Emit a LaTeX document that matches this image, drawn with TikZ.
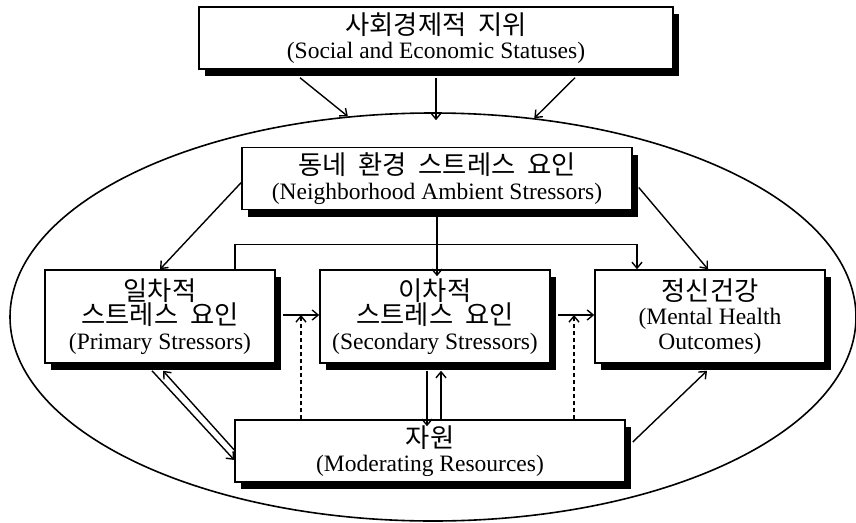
\documentclass[tikz,border=0pt]{standalone}
\usepackage{fontspec}
\setmainfont{Liberation Serif}
\newfontfamily\kr[Scale=1.12,WordSpace=2]{Noto Sans CJK KR}
\usetikzlibrary{shapes.geometric,shadows,arrows.meta}

\begin{document}
\begin{tikzpicture}[x=1pt,y=-1pt,font=\fontsize{23.5}{24.5}\selectfont,
 >={Straight Barb[length=6pt,width=10pt]},
 box/.style={draw,fill=white,line width=1.5pt,align=center,inner sep=2pt,
  drop shadow={shadow xshift=6pt,shadow yshift=-7pt,fill=black,opacity=1}},
 wide/.style={box,minimum width=390pt,minimum height=62pt},
 narrow/.style={box,minimum width=230pt,minimum height=93pt},
 link/.style={->,line width=1.4pt},
 moderate/.style={link,dash pattern=on 4pt off 3pt}]
\useasboundingbox (0,0) rectangle (856,522);
\node[draw,ellipse,line width=1.6pt,minimum width=846pt,minimum height=408pt] (field) at (433,317) {};
\node[box,minimum width=474pt,minimum height=62pt] (ses) at (436,38) {{\kr 사회경제적 지위}\\(Social and Economic Statuses)};
\node[wide] (nbr) at (437,178.5) {{\kr 동네 환경 스트레스 요인}\\(Neighborhood Ambient Stressors)};
\node[narrow] (pri) at (160,316.5) {{\kr 일차적}\\{\kr 스트레스 요인}\\(Primary Stressors)};
\node[narrow] (sec) at (435,316.5) {{\kr 이차적}\\{\kr 스트레스 요인}\\(Secondary Stressors)};
\node[narrow] (men) at (710,316.5) {{\kr 정신건강}\\(Mental Health\\Outcomes)};
\node[wide] (res) at (430,451) {{\kr 자원}\\(Moderating Resources)};
\coordinate (m1) at (301,315);
\coordinate (m2) at (574,315);

\draw[link] ([xshift=-136pt,yshift=-8pt]ses.south) -- (field.113);
\draw[link] ([yshift=-8pt]ses.south) -- ([yshift=-8pt]ses.south |- field.north);
\draw[link] ([xshift=139pt,yshift=-8pt]ses.south) -- (field.63);
\draw[link] ([yshift=-4pt]nbr.west) -- (pri.north);
\draw[link] ([yshift=-7pt]nbr.south) -- ([yshift=-7pt]nbr.south |- sec.north);
\draw[link] ([xshift=6pt,yshift=-9pt]nbr.east) -- ([xshift=-2pt]men.north);
\draw[link] ([xshift=75pt]pri.north) -- ++(0,-25) -| ([xshift=-73pt]men.north);
\draw[link] ([xshift=7pt,yshift=1.5pt]pri.east) -- ([yshift=1.5pt]sec.west);
\draw[link] ([xshift=7pt,yshift=1.5pt]sec.east) -- ([yshift=1.5pt]men.west);
\draw[moderate] (res.north -| m1) -- (m1);
\draw[moderate] (res.north -| m2) -- (m2);
\draw[link] ([xshift=-8pt,yshift=-7pt]pri.south) -- ([yshift=-9pt]res.west);
\draw[link] ([yshift=1pt]res.west) -- ([xshift=3pt,yshift=-7pt]pri.south);
\draw[link] ([xshift=-8pt,yshift=-7pt]sec.south) -- ([xshift=-8pt,yshift=-7pt]sec.south |- res.north);
\draw[link] ([xshift=6pt]sec.south |- res.north) -- ([xshift=6pt,yshift=-7pt]sec.south);
\draw[link] ([xshift=7pt,yshift=9pt]res.east) -- ([xshift=-3pt,yshift=-7pt]men.south);
\end{tikzpicture}
\end{document}
